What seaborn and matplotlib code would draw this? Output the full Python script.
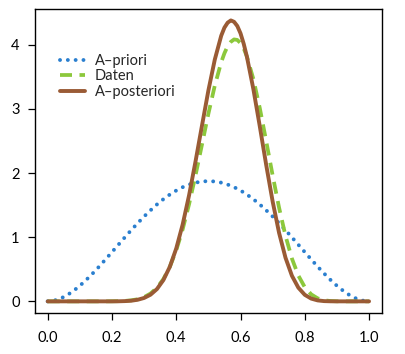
import matplotlib
matplotlib.use("Agg")
import matplotlib.pyplot as plt
import seaborn as sns
import pandas as pd
import numpy as np

sns.set_style("ticks")
plt.rcParams['font.family'] = ['Lato', 'DejaVu Sans']

# values (x mostly in steps of 0.02, a few extra around the peak)
x = [0.00, 0.02, 0.04, 0.06, 0.08, 0.10, 0.12, 0.14, 0.16, 0.18,
     0.20, 0.22, 0.24, 0.26, 0.28, 0.30, 0.32, 0.34, 0.36, 0.38,
     0.40, 0.42, 0.44, 0.46, 0.48, 0.50, 0.52, 0.54, 0.55, 0.56, 0.57, 0.58,
     0.59, 0.60, 0.61, 0.62, 0.64, 0.66, 0.68, 0.70, 0.72, 0.74, 0.76, 0.78,
     0.80, 0.82, 0.84, 0.86, 0.88, 0.90, 0.92, 0.94, 0.96, 0.98, 1.00]

priori = [0.0, 0.012, 0.044, 0.095, 0.163, 0.243, 0.335, 0.435, 0.542, 0.654,
          0.768, 0.883, 0.998, 1.111, 1.219, 1.323, 1.420, 1.511, 1.593, 1.665,
          1.728, 1.780, 1.821, 1.851, 1.869, 1.875, 1.869, 1.851, 1.838, 1.821, 1.802, 1.780,
          1.755, 1.728, 1.698, 1.665, 1.593, 1.511, 1.420, 1.323, 1.219, 1.111, 0.998, 0.883,
          0.768, 0.654, 0.542, 0.435, 0.335, 0.243, 0.163, 0.095, 0.044, 0.012, 0.0]

daten = [0.0, 0.0, 0.0, 0.0, 0.0, 0.0, 0.0, 0.0, 0.0, 0.0,
         0.001, 0.003, 0.007, 0.016, 0.033, 0.066, 0.122, 0.212, 0.347, 0.539,
         0.796, 1.123, 1.516, 1.964, 2.442, 2.924, 3.364, 3.729, 3.869, 3.979, 4.047, 4.084,
         4.076, 4.027, 3.943, 3.815, 3.466, 3.013, 2.497, 1.964, 1.461, 1.022, 0.667, 0.402,
         0.221, 0.109, 0.047, 0.017, 0.005, 0.001, 0.0, 0.0, 0.0, 0.0, 0.0]

posteriori = [0.0, 0.0, 0.0, 0.0, 0.0, 0.0, 0.0, 0.0, 0.0, 0.0,
              0.0, 0.001, 0.004, 0.010, 0.025, 0.053, 0.104, 0.192, 0.332, 0.538,
              0.824, 1.198, 1.655, 2.181, 2.737, 3.287, 3.770, 4.142, 4.268, 4.345, 4.380, 4.358,
              4.293, 4.179, 4.015, 3.812, 3.310, 2.729, 2.125, 1.557, 1.068, 0.680, 0.399, 0.213,
              0.102, 0.043, 0.015, 0.004, 0.001, 0.0, 0.0, 0.0, 0.0, 0.0, 0.0]

fig = plt.figure(figsize=(4.05, 3.54), dpi=100)
ax = fig.add_axes([0.086, 0.117, 0.857, 0.857])

sns.lineplot(x=x, y=priori, ax=ax, color='#2a7fcf', linewidth=2.8,
             linestyle=(0, (0.01, 2.0)), dash_capstyle='round',
             solid_capstyle='round', label='A\u2013priori')
sns.lineplot(x=x, y=daten, ax=ax, color='#8cc83c', linewidth=2.7,
             linestyle=(0, (3.2, 2.0)), label='Daten')
sns.lineplot(x=x, y=posteriori, ax=ax, color='#9a5b35', linewidth=2.8,
             solid_joinstyle='round', label='A\u2013posteriori')

ax.set_xlim(-0.04, 1.04)
ax.set_ylim(-0.175, 4.555)
ax.set_xticks([0.0, 0.2, 0.4, 0.6, 0.8, 1.0])
ax.set_xticklabels(['0.0', '0.2', '0.4', '0.6', '0.8', '1.0'])
ax.set_yticks([0, 1, 2, 3, 4])
ax.tick_params(direction='out', length=5, width=0.9, labelsize=10.5, colors='black')
ax.tick_params(axis='x', pad=8)
ax.tick_params(axis='y', pad=6)
for s in ax.spines.values():
    s.set_visible(True)
    s.set_linewidth(1.0)
    s.set_color('black')

leg = ax.legend(loc='upper left', bbox_to_anchor=(0.055, 0.872), frameon=False,
                fontsize=10.5, handlelength=1.7, handletextpad=0.7,
                labelspacing=0.1, borderaxespad=0)

fig.savefig('out.png', dpi=100)
